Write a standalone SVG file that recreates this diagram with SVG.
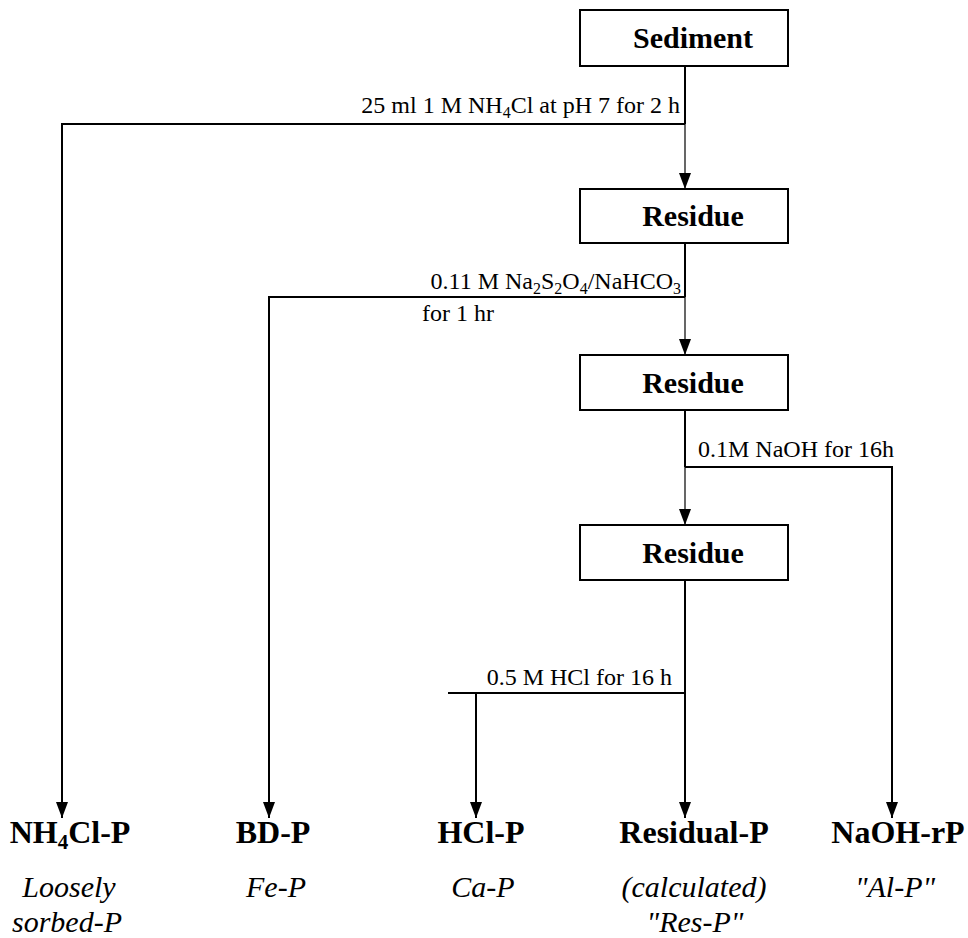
<svg xmlns="http://www.w3.org/2000/svg" width="968" height="938" viewBox="0 0 968 938">
<style>
.box{fill:#fff;stroke:#000;stroke-width:2}
.ln{fill:none;stroke:#000;stroke-width:2}
.thin{fill:none;stroke:#000;stroke-width:1.2}
.node{font-family:"Liberation Serif","Times New Roman",serif;font-weight:bold;font-size:30px;text-anchor:middle}
.lbl{font-family:"Liberation Serif","Times New Roman",serif;font-size:24px}
.end{text-anchor:end}
.res{font-family:"Liberation Serif","Times New Roman",serif;font-weight:bold;font-size:32px;text-anchor:middle}
.it{font-family:"Liberation Serif","Times New Roman",serif;font-style:italic;font-size:30px;text-anchor:middle}
</style>
<defs>
<marker id="ah" markerUnits="userSpaceOnUse" viewBox="0 0 16 12" refX="16" refY="6" markerWidth="16" markerHeight="12" orient="auto">
<path d="M0,0 L16,6 L0,12 z" fill="#000"/>
</marker>
</defs>
<g id="connectors">
<path class="ln" d="M685,66 V124"/>
<path class="thin" d="M685,124 V189" marker-end="url(#ah)"/>
<path class="ln" d="M685,124 H62 V818" marker-end="url(#ah)"/>
<path class="ln" d="M685,243 V297"/>
<path class="thin" d="M685,297 V355" marker-end="url(#ah)"/>
<path class="ln" d="M685,297 H269 V818" marker-end="url(#ah)"/>
<path class="ln" d="M685,410 V467"/>
<path class="thin" d="M685,467 V525" marker-end="url(#ah)"/>
<path class="ln" d="M685,467 H892 V818" marker-end="url(#ah)"/>
<path class="ln" d="M685,580 V818" marker-end="url(#ah)"/>
<path class="ln" d="M685,693 H448"/>
<path class="ln" d="M476,693 V818" marker-end="url(#ah)"/>
<text class="lbl end" x="680" y="113">25 ml 1 M NH<tspan font-size="16" dy="5">4</tspan><tspan dy="-5">Cl at pH 7 for 2 h</tspan></text>
<text class="lbl end" x="681" y="289">0.11 M Na<tspan font-size="16" dy="5">2</tspan><tspan dy="-5">S</tspan><tspan font-size="16" dy="5">2</tspan><tspan dy="-5">O</tspan><tspan font-size="16" dy="5">4</tspan><tspan dy="-5">/NaHCO</tspan><tspan font-size="16" dy="5">3</tspan></text>
<text class="lbl" x="422" y="321">for 1 hr</text>
<text class="lbl" x="698" y="457">0.1M NaOH for 16h</text>
<text class="lbl end" x="672" y="685">0.5 M HCl for 16 h</text>
</g>
<g id="sediment">
<rect class="box" x="580" y="10" width="208" height="56"/>
<text class="node" x="693" y="48">Sediment</text>
</g>
<g id="residue1">
<rect class="box" x="580" y="189" width="208" height="54"/>
<text class="node" x="693" y="226">Residue</text>
</g>
<g id="residue2">
<rect class="box" x="580" y="355" width="208" height="55"/>
<text class="node" x="693" y="393">Residue</text>
</g>
<g id="residue3">
<rect class="box" x="580" y="525" width="208" height="55"/>
<text class="node" x="693" y="563">Residue</text>
</g>
<g id="nh4cl-p">
<text class="res" x="70" y="843">NH<tspan font-size="21" dy="6">4</tspan><tspan dy="-6">Cl-P</tspan></text>
<text class="it" x="69" y="897">Loosely</text>
<text class="it" x="67" y="932">sorbed-P</text>
</g>
<g id="bd-p">
<text class="res" x="273" y="843">BD-P</text>
<text class="it" x="276" y="897">Fe-P</text>
</g>
<g id="hcl-p">
<text class="res" x="481" y="843">HCl-P</text>
<text class="it" x="483" y="897">Ca-P</text>
</g>
<g id="residual-p">
<text class="res" x="694" y="843">Residual-P</text>
<text class="it" x="694" y="897">(calculated)</text>
<text class="it" x="695" y="932">"Res-P"</text>
</g>
<g id="naoh-rp">
<text class="res" x="898" y="843">NaOH-rP</text>
<text class="it" x="895" y="897">"Al-P"</text>
</g>
</svg>
